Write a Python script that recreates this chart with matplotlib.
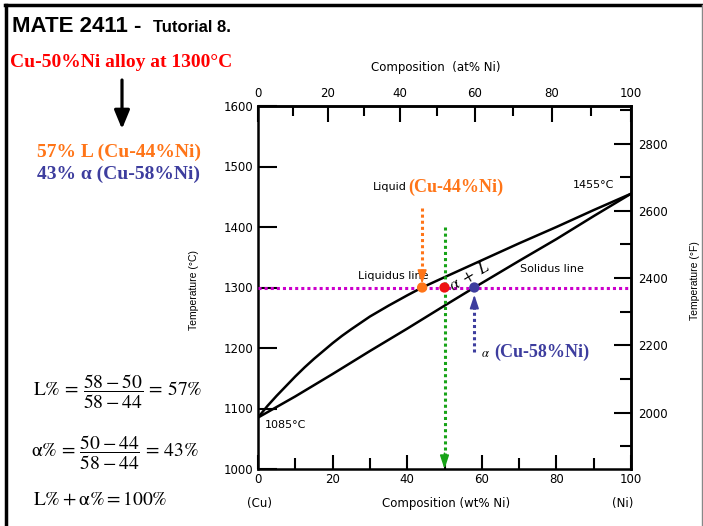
import numpy as np
import matplotlib
matplotlib.use("Agg")
import matplotlib.pyplot as plt
from matplotlib.lines import Line2D
from matplotlib.patches import FancyArrowPatch

# Cu-Ni phase diagram
liq_wt = [0, 2.5, 5, 7.5, 10, 12.5, 15, 17.5, 20, 22.5, 25, 30, 35, 40, 44, 50, 60, 70, 80, 90, 100]
liq_c = [1085, 1104, 1121, 1137, 1153, 1168, 1182, 1195, 1208, 1220, 1231, 1252, 1270, 1287, 1300, 1317,
         1345, 1373, 1400, 1428, 1455]
sol_wt = [0, 10, 20, 30, 40, 50, 58, 70, 80, 90, 100]
sol_c = [1085, 1120, 1157, 1195, 1232, 1270, 1300, 1344, 1380, 1418, 1455]

alloy_wt = 50
temp_c = 1300
liquid_wt = 44
alpha_wt = 58

wt_ticks = [0, 20, 40, 60, 80, 100]
wt_minor = [10, 30, 50, 70, 90]
at_ticks = [0, 20, 40, 60, 80, 100]
at_minor = [10, 30, 50, 70, 90]
c_ticks = [1000, 1100, 1200, 1300, 1400, 1500, 1600]
f_ticks = [2000, 2200, 2400, 2600, 2800]
f_minor = [1900, 2100, 2300, 2500, 2700, 2900]

ORANGE = "#ff7518"
BLUE = "#3d3d9e"
RED = "#ee1111"
MAGENTA = "#cc00cc"
GREEN = "#17a317"

plt.rcParams["mathtext.fontset"] = "stix"
SANS = "DejaVu Sans"
SERIF = "Liberation Serif"

W, H = 703, 526


def px(x, y):
    return x / W, 1 - y / H


def wt2at(w):
    w = np.asarray(w, dtype=float)
    with np.errstate(divide="ignore", invalid="ignore"):
        a = w / 58.69
        b = (100 - w) / 63.55
        return 100 * a / (a + b)


def at2wt(t):
    t = np.asarray(t, dtype=float)
    with np.errstate(divide="ignore", invalid="ignore"):
        a = t * 58.69
        b = (100 - t) * 63.55
        return 100 * a / (a + b)


def c2f(c):
    return np.asarray(c, dtype=float) * 9 / 5 + 32


def f2c(f):
    return (np.asarray(f, dtype=float) - 32) * 5 / 9


fig = plt.figure(figsize=(W / 100, H / 100), dpi=100)

# ---- slide text ----
fig.text(*px(12, 32), "MATE 2411 -", family="Liberation Sans", weight="bold", size=16, va="baseline")
fig.text(*px(153, 32), "Tutorial 8.", family="Liberation Sans", weight="bold", size=12, va="baseline")
fig.text(*px(10, 67), "Cu-50%Ni alloy at 1300\u00b0C", family=SERIF, weight="bold", size=14,
         color="#ff0000", va="baseline")
fig.add_artist(FancyArrowPatch(px(122, 80), px(122, 129), transform=fig.transFigure,
                               arrowstyle="-|>,head_length=0.8,head_width=0.33", mutation_scale=14,
                               lw=2.3, color="black", shrinkA=0, shrinkB=0))

l_pct = round((alpha_wt - alloy_wt) / (alpha_wt - liquid_wt) * 100)
a_pct = round((alloy_wt - liquid_wt) / (alpha_wt - liquid_wt) * 100)
fig.text(*px(37, 157), f"{l_pct}% L (Cu-{liquid_wt}%Ni)", family=SERIF, weight="bold", size=14,
         color=ORANGE, va="baseline")
fig.text(*px(37, 179), f"{a_pct}% \u03b1 (Cu-{alpha_wt}%Ni)", family=SERIF, weight="bold", size=14,
         color=BLUE, va="baseline")

eq1 = ("$\\mathrm{L\\%}\\,=\\,\\dfrac{" + f"{alpha_wt}-{alloy_wt}" + "}{" + f"{alpha_wt}-{liquid_wt}"
       + "}\\,=\\," + f"{l_pct}" + "\\%$")
eq2 = ("$\\mathrm{\u03b1\\%}\\,=\\,\\dfrac{" + f"{alloy_wt}-{liquid_wt}" + "}{" + f"{alpha_wt}-{liquid_wt}"
       + "}\\,=\\," + f"{a_pct}" + "\\%$")
eq3 = "$\\mathrm{L\\%} + \\mathrm{\u03b1\\%} = 100\\%$"
fig.text(*px(33, 392), eq1, size=14, va="center")
fig.text(*px(31, 453), eq2, size=14, va="center")
fig.text(*px(33, 505), eq3, size=14, va="baseline")

# slide border
fig.add_artist(Line2D([5 / W, 702 / W], [1 - 4.5 / H, 1 - 4.5 / H], transform=fig.transFigure, color="black", lw=2.5))
fig.add_artist(Line2D([6 / W, 6 / W], [0, 1 - 4.5 / H], transform=fig.transFigure, color="black", lw=2.5))
fig.add_artist(Line2D([701.5 / W, 701.5 / W], [0, 1 - 4.5 / H], transform=fig.transFigure, color="#888888", lw=1))

# ---- phase diagram ----
ax = fig.add_axes([258 / W, 57 / H, 373 / W, 363 / H])
ax.set_xlim(0, 100)
ax.set_ylim(1000, 1600)
for s in ax.spines.values():
    s.set_linewidth(1.8)

ax.plot(liq_wt, liq_c, color="black", lw=1.8, solid_capstyle="round", solid_joinstyle="round")
ax.plot(sol_wt, sol_c, color="black", lw=1.8, solid_capstyle="round", solid_joinstyle="round")

ax.set_xticks(wt_ticks)
ax.set_xticks(wt_minor, minor=True)
ax.set_yticks(c_ticks)
ax.tick_params(axis="x", which="major", direction="in", length=10, width=1.5, pad=3, labelsize=8.5)
ax.tick_params(axis="x", which="minor", direction="in", length=8, width=1.5)
ax.tick_params(axis="y", direction="in", length=14, width=1.5, pad=3.5, labelsize=8.5)
ax.tick_params(top=False, right=False)

sx = ax.secondary_xaxis("top", functions=(wt2at, at2wt))
sx.set_xticks(at_ticks)
sx.set_xticks(at_minor, minor=True)
sx.tick_params(which="major", direction="in", length=11.5, width=1.5, pad=4.5, labelsize=8.5)
sx.tick_params(which="minor", direction="in", length=7, width=1.5)
sx.spines["top"].set_linewidth(1.8)

sy = ax.secondary_yaxis("right", functions=(c2f, f2c))
sy.set_yticks(f_ticks)
sy.set_yticks(f_minor, minor=True)
sy.tick_params(which="major", direction="in", length=12, width=1.5, pad=5, labelsize=8.5)
sy.tick_params(which="minor", direction="in", length=8, width=1.5)
sy.spines["right"].set_linewidth(1.8)

# axis titles
fig.text(*px(436, 68), "Composition  (at% Ni)", family=SANS, size=8.5, ha="center", va="center")
fig.text(*px(446, 503), "Composition (wt% Ni)", family=SANS, size=8.5, ha="center", va="center")
fig.text(*px(260, 503), "(Cu)", family=SANS, size=8.5, ha="center", va="center")
fig.text(*px(623, 503), "(Ni)", family=SANS, size=8.5, ha="center", va="center")
fig.text(*px(194, 290), "Temperature (\u00b0C)", family="Liberation Sans", size=7.5, rotation=90,
         ha="center", va="center")
fig.text(*px(695, 281), "Temperature (\u00b0F)", family="Liberation Sans", size=7.5, rotation=90,
         ha="center", va="center")

# tie line and guide lines
dot = (0, (1, 1))
ax.plot([0, 100], [temp_c, temp_c], color=MAGENTA, lw=2.2, ls=dot, zorder=3)
ax.plot([alloy_wt, alloy_wt], [1400, 1023], color=GREEN, lw=2.2, ls=dot, zorder=3)
ax.plot([liquid_wt, liquid_wt], [1431, temp_c + 26], color=ORANGE, lw=2.2, ls=dot, zorder=3)
ax.plot([alpha_wt, alpha_wt], [1193, temp_c - 30], color=BLUE, lw=2.2, ls=dot, zorder=3)

head = dict(arrowstyle="-|>,head_length=0.9,head_width=0.3", mutation_scale=9, lw=1.2, shrinkA=0, shrinkB=0)
ax.annotate("", xy=(alloy_wt, 1000), xytext=(alloy_wt, 1026), arrowprops=dict(color=GREEN, **head), zorder=4)
ax.annotate("", xy=(liquid_wt, temp_c + 6), xytext=(liquid_wt, temp_c + 28), arrowprops=dict(color=ORANGE, **head), zorder=4)
ax.annotate("", xy=(alpha_wt, temp_c - 12), xytext=(alpha_wt, temp_c - 34), arrowprops=dict(color=BLUE, **head), zorder=4)

ax.scatter([liquid_wt, alloy_wt, alpha_wt], [temp_c] * 3, s=55, c=[ORANGE, RED, BLUE], zorder=5, linewidths=0)

# labels inside the diagram
ax.text(30.8, 1466, "Liquid", family=SANS, size=8, va="center")
ax.text(40.4, 1466, f"(Cu-{liquid_wt}%Ni)", family=SERIF, weight="bold", size=13, color=ORANGE, va="center")
ax.text(84.5, 1469, "1455\u00b0C", family=SANS, size=8, va="center")
ax.text(26.8, 1319, "Liquidus line", family=SANS, size=8, va="center")
ax.text(70.2, 1331, "Solidus line", family=SANS, size=8, va="center")
ax.text(1.9, 1073, "1085\u00b0C", family=SANS, size=8, va="center")
ax.text(56.8, 1318, r"$\alpha\ +\ L$", size=12, rotation=30, ha="center", va="center")
ax.text(61.1, 1191, r"$\alpha$", size=9, weight="bold", ha="center", va="center")
ax.text(63.3, 1193, f"(Cu-{alpha_wt}%Ni)", family=SERIF, weight="bold", size=13, color=BLUE, va="center")

fig.savefig("out.png", dpi=100)
